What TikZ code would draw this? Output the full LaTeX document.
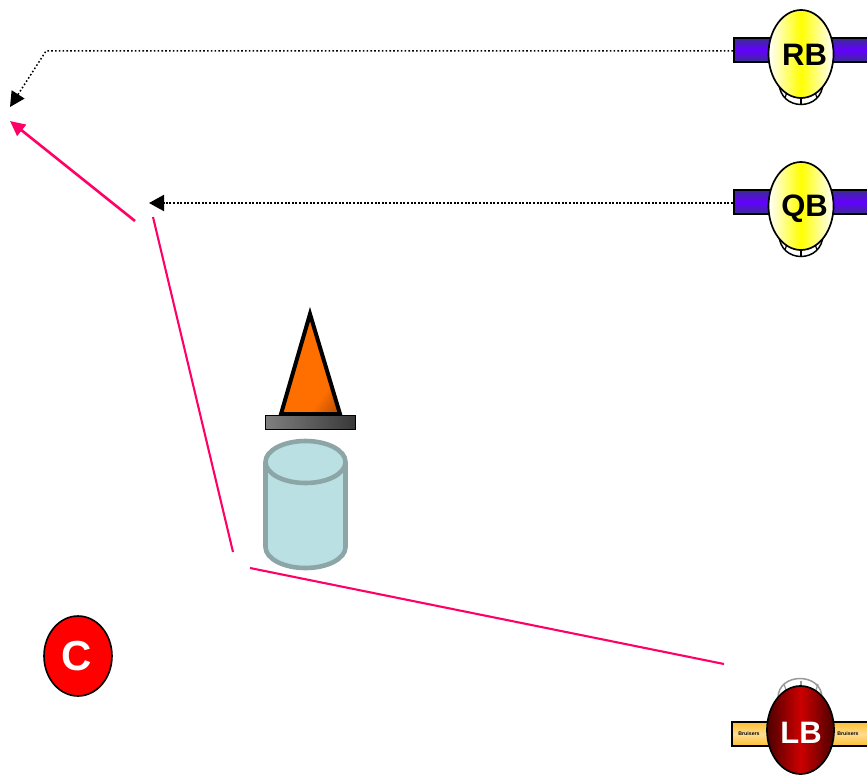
\documentclass[tikz,border=0pt]{standalone}
\usepackage{fontspec}
\setmainfont{Liberation Sans}
\usetikzlibrary{arrows.meta,shapes.geometric}
\definecolor{pinkline}{HTML}{FF0066}
\definecolor{barpurple}{HTML}{6400FF}
\definecolor{bardark}{HTML}{3A2C90}
\definecolor{coneor}{HTML}{FF6F00}
\definecolor{conedark}{HTML}{C85400}
\definecolor{cyfill}{HTML}{BAE0E3}
\definecolor{cyline}{HTML}{8CA6A8}
\definecolor{goldedge}{HTML}{FFBE30}
\definecolor{goldmid}{HTML}{FFDC90}
\pgfdeclarehorizontalshading{conegrad}{100bp}{color(0bp)=(coneor); color(68bp)=(coneor); color(80bp)=(conedark); color(100bp)=(conedark)}
\tikzset{
  x=1pt,y=-1pt,
  pinkarrow/.style={draw=pinkline,line width=2.6pt,-{Triangle[length=15pt,width=14pt]}},
  pinkplain/.style={draw=pinkline,line width=2.1pt},
  dotarrow/.style={draw=black,line width=1.5pt,dash pattern=on 1.6pt off 2.2pt,-{Triangle[length=15pt,width=15pt]}},
  dotarrowb/.style={draw=black,line width=2pt,dash pattern=on 2pt off 1.6pt,-{Triangle[length=15pt,width=16pt]}},
  offbar/.style={draw=black,line width=1.6pt,top color=bardark,bottom color=bardark,middle color=barpurple,minimum width=136pt,minimum height=24pt,inner sep=0pt},
  defbar/.style={draw=black,line width=1.8pt,top color=goldedge,bottom color=goldedge,middle color=goldmid,minimum width=137pt,minimum height=24pt,inner sep=0pt},
  offhead/.style={draw=black,line width=1.7pt,ellipse,left color=white,right color=white,middle color=yellow,minimum width=65pt,minimum height=88pt,inner sep=0pt},
  defhead/.style={draw=black,line width=1.7pt,ellipse,left color=red!30!black,right color=red!30!black,middle color=red!80!black,minimum width=67pt,minimum height=88pt,inner sep=0pt},
  playerc/.style={draw=black,line width=1.6pt,ellipse,fill=red,minimum width=68pt,minimum height=80pt,inner sep=0pt,text=white,font=\bfseries\fontsize{42}{42}\selectfont},
  tinylabel/.style={font=\bfseries\fontsize{5.2}{5.2}\selectfont,inner sep=0pt},
  headtext/.style={font=\bfseries\fontsize{31}{31}\selectfont,inner sep=0pt},
  hel/.style={draw=black,line width=1.5pt,fill=white},
  helgray/.style={draw=black!40,line width=1.5pt,fill=white},
}
\begin{document}
\begin{tikzpicture}
\clip (0,0) rectangle (867,776);
\fill[white] (0,0) rectangle (867,776);

% anchors of the connectors
\coordinate (arrowA) at (10,107);
\coordinate (bend) at (46,51);
\coordinate (arrowB) at (10,121);
\coordinate (arrowC) at (149,203);
\coordinate (pinkA) at (135,221);
\coordinate (pinkB) at (153,217);
\coordinate (pinkC) at (233,552);
\coordinate (pinkD) at (250,568);
\coordinate (pinkE) at (724,664);

% RB
\filldraw[hel] (779,82) .. controls (779,112) and (823,112) .. (823,82) -- cycle;
\draw[line width=1.2pt] (787,92) -- (785,98) (815,92) -- (817,98);
\draw[line width=1.2pt] (801,96) -- (801,104);
\node[offbar,anchor=west] (rbbar) at (733,50) {};
\node[offhead] (rb) at (801,54) {};
\node[headtext] (rbtext) at (804.5,55) {RB};
\draw[dotarrow] (733,51) -- (bend) -- (arrowA);

% QB
\filldraw[hel] (779,234) .. controls (779,264) and (823,264) .. (823,234) -- cycle;
\draw[line width=1.2pt] (787,244) -- (785,250) (815,244) -- (817,250);
\draw[line width=1.2pt] (801,248) -- (801,256);
\node[offbar,anchor=west] (qbbar) at (733,202) {};
\node[offhead] (qb) at (801,206) {};
\node[headtext] (qbtext) at (804.5,209) {QB};
\draw[dotarrowb] (733,203) -- (arrowC);

% pink route
\draw[pinkarrow] (pinkA) -- (arrowB);
\draw[pinkplain] (pinkB) -- (pinkC);
\draw[pinkplain] (pinkD) -- (pinkE);

% cone
\path[draw=black,line width=4pt,miter limit=10,shading=conegrad,shading angle=-35]
  (310,314) -- (340,414) -- (281,414) -- cycle;
\node[draw=black,line width=1.6pt,left color=black!50,right color=black!78,minimum width=90pt,minimum height=14pt,inner sep=0pt] (conebase) at (310.5,422.5) {};

% cylinder
\path[draw=cyline,line width=4.6pt,fill=cyfill]
  (265.5,462) -- (265.5,547) arc[start angle=180,end angle=0,x radius=40,y radius=21] -- (345.5,462)
  arc[start angle=0,end angle=-180,x radius=40,y radius=21] -- cycle;
\draw[cyline,line width=4.6pt] (265.5,462) arc[start angle=180,end angle=0,x radius=40,y radius=21];

% LB
\filldraw[helgray] (778,698) .. controls (778,672) and (822,672) .. (822,698) -- cycle;
\draw[black!40,line width=1.2pt] (786,690) -- (784,684) (816,690) -- (818,684);
\draw[black!40,line width=1.2pt] (801,681) -- (801,687);
\node[defbar,anchor=west] (lbbar) at (731,734) {};
\node[tinylabel] (brl) at (749,733.5) {Bruisers};
\node[tinylabel] (brr) at (848,733.5) {Bruisers};
\node[defhead] (lb) at (800.5,730) {};
\node[headtext,text=white] (lbtext) at (801,733) {LB};

% C
\node[playerc] (c) at (78,656) {\raisebox{-1.5pt}{\kern-3pt C}};
\end{tikzpicture}
\end{document}
